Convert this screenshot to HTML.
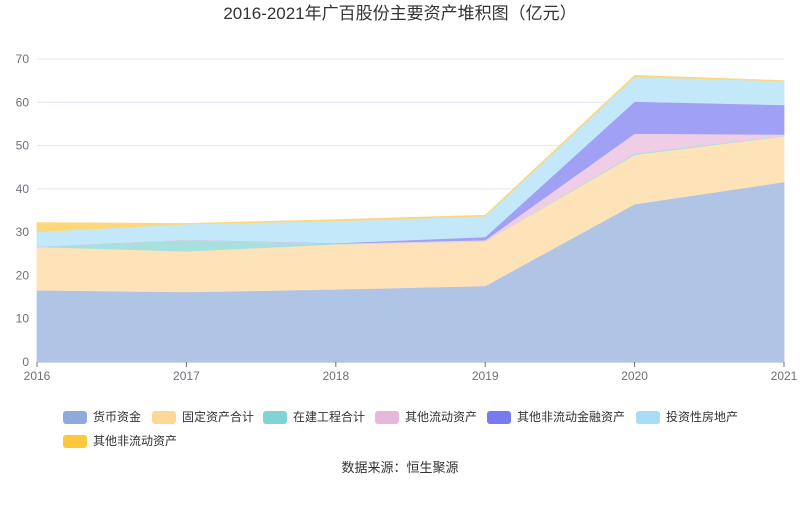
<!DOCTYPE html>
<html><head><meta charset="utf-8"><style>
body{margin:0;background:#fff;font-family:"Liberation Sans","Noto Sans CJK SC",sans-serif;}
svg text{font-family:"Liberation Sans","Noto Sans CJK SC",sans-serif;}
</style></head><body>
<svg id="c" width="800" height="501" xmlns="http://www.w3.org/2000/svg">
<text x="400" y="19" text-anchor="middle" font-size="17" fill="#333">2016-2021年广百股份主要资产堆积图（亿元）</text>
<g id="grid"></g><g id="areas"></g><g id="axes"></g><g id="legend"></g>
<text x="400" y="472" text-anchor="middle" font-size="13" fill="#333">数据来源：恒生聚源</text>
</svg>
<script>
const years=["2016","2017","2018","2019","2020","2021"];
const yTicks=[0,10,20,30,40,50,60,70];
const seriesNames=["货币资金","固定资产合计","在建工程合计","其他流动资产","其他非流动金融资产","投资性房地产","其他非流动资产"];
const money=[16.6,16.2,16.8,17.6,36.5,41.6];
const fixedAssets=[10.0,9.4,10.4,10.3,11.4,10.6];
const construction=[0,2.6,0.1,0,0.3,0.1];
const otherCurrent=[0.1,0.1,0.1,0.3,4.6,0.3];
const otherFinancial=[0,0,0.1,0.7,7.4,6.8];
const investProperty=[3.4,3.6,5.1,4.8,5.7,5.5];
const otherNonCurrent=[2.1,0.1,0.3,0.2,0.3,0.1];
const allSeries=[money,fixedAssets,construction,otherCurrent,otherFinancial,investProperty,otherNonCurrent];
const fills=["#b0c4e5","#fee3b9","#a8e0e0","#efcde6","#a0a0f5","#c2e8fa","#fed77a"];
const swatch=["#8fa9dc","#ffd898","#80d4d4","#e8b8da","#7a7af0","#a8ddf8","#ffc83c"];
const NS="http://www.w3.org/2000/svg";
const X0=37,X1=784,Y0=362,Y70=59;
const xs=i=>X0+(X1-X0)*i/(years.length-1);
const ys=v=>Y0-(Y0-Y70)*v/70;
function mk(t,a,p){const e=document.createElementNS(NS,t);for(const k in a)e.setAttribute(k,a[k]);p.appendChild(e);return e;}
const grid=document.getElementById('grid'),axes=document.getElementById('axes'),areas=document.getElementById('areas'),legend=document.getElementById('legend');
yTicks.forEach(t=>{
 const l=mk('line',{x1:X0,x2:X1,y1:ys(t),y2:ys(t),stroke:t===0?'#6e7079':'#e0e6f1'},grid);
 
 
 const tx=mk('text',{x:X0-8,y:ys(t)+4,'text-anchor':'end','font-size':12,fill:'#6e7079'},axes);
 tx.textContent=t;
 
 
});
years.forEach((y,i)=>{
 const tk=mk('line',{x1:xs(i),x2:xs(i),y1:Y0,y2:Y0+5,stroke:'#6e7079'},axes);
 
 
 const tx=mk('text',{x:xs(i),y:Y0+18,'text-anchor':'middle','font-size':12,fill:'#6e7079'},axes);
 tx.textContent=y;
 
 
});
let base=years.map(()=>0);
allSeries.forEach((s,k)=>{
 const top=base.map((b,i)=>b+s[i]);
 let d='M'+years.map((_,i)=>xs(i)+','+ys(top[i])).join('L');
 for(let i=years.length-1;i>=0;i--)d+='L'+xs(i)+','+ys(base[i]);
 d+='Z';
 const p=mk('path',{d:d,fill:fills[k],stroke:fills[k],'stroke-width':0.8},areas);
 
 
 base=top;
});
const pos=[[63,417],[152,417],[263,417],[375,417],[487,417],[636,417],[63,441]];
seriesNames.forEach((n,k)=>{
 const g=mk('g',{},legend);
 
 
 mk('rect',{x:pos[k][0],y:pos[k][1]-6,width:24,height:13,rx:3,fill:swatch[k]},g);
 const t=mk('text',{x:pos[k][0]+30,y:pos[k][1]+4,'font-size':12,fill:'#333'},g);
 t.textContent=n;
});
</script>
</body></html>
